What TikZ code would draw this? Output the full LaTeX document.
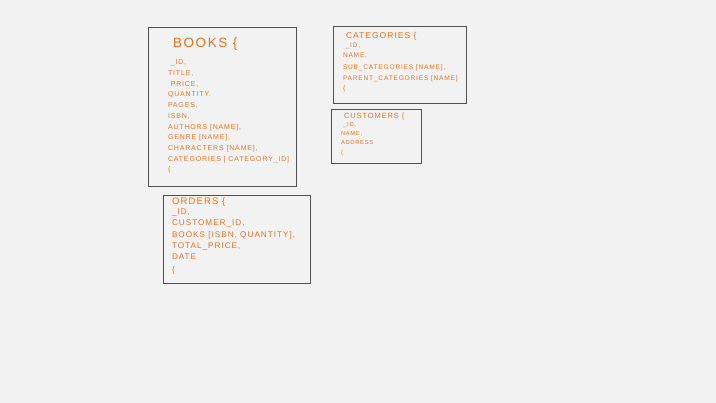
\documentclass[tikz,border=0pt]{standalone}
\usepackage{fontspec}
\setmainfont{Liberation Sans}
\newfontfamily\handfont[LetterSpace=12]{Liberation Sans}
\usetikzlibrary{positioning}
\definecolor{pen}{HTML}{E5711E}
\definecolor{paper}{HTML}{F2F2F2}
\definecolor{frame}{HTML}{505050}

\begin{document}
\begin{tikzpicture}[x=1pt, y=-1pt, every node/.style={inner sep=0pt, outer sep=0pt, text=pen, anchor=north west},
    tablebox/.style={draw=frame, line width=0.6pt, fill=paper, minimum width=#1, anchor=north west},
    title/.style={font=\handfont\fontsize{#1}{#1}\selectfont},
    fields/.style 2 args={align=left, font=\handfont\fontsize{#1}{#2}\selectfont}]
                % page
                \fill[paper] (0,0) rectangle (716,403);
                \useasboundingbox (0,0) rectangle (716,403);

                % books
                \node[tablebox=148pt, minimum height=159pt] (books) at (148,27) {};
                \node[title=13.5] (bookstitle) at (173,38) {BOOKS \{};
                \node[fields={7}{10.7}] (booksfields) at (168,60) {\ \_ID,\\ TITLE,\\ \ PRICE,\\ QUANTITY.\\ PAGES,\\ ISBN,\\ AUTHORS [NAME],\\ GENRE [NAME],\\ CHARACTERS [NAME],\\ CATEGORIES [ CATEGORY\_ID]\\ \{};

                % categories
                \node[tablebox=133pt, minimum height=77pt] (categories) at (333,26) {};
                \node[title=8.5] (categoriestitle) at (346,32) {CATEGORIES \{};
                \node[fields={6.6}{10}] (categoriesfields) at (343,43) {\ \_ID,\\ NAME,\\[2pt] SUB\_CATEGORIES [NAME],\\[1pt] PARENT\_CATEGORIES [NAME]\\ \{};

                % customers
                \node[tablebox=90pt, minimum height=54pt] (customers) at (331,109) {};
                \node[title=7.5] (customerstitle) at (344,113) {CUSTOMERS \{};
                \node[fields={5.8}{9}] (customersfields) at (341,123) {\ \_ID,\\ NAME,\\ ADDRESS\\[1pt] \{};

                % orders
                \node[tablebox=147pt, minimum height=88pt] (orders) at (163,195) {};
                \node[title=9.5] (orderstitle) at (172,198) {ORDERS \{};
                \node[fields={8.2}{11.2}] (ordersfields) at (172,209) {\_ID,\\ CUSTOMER\_ID,\\ BOOKS [ISBN, QUANTITY],\\ TOTAL\_PRICE,\\ DATE\\[2pt] \{};
            \end{tikzpicture}
\end{document}
